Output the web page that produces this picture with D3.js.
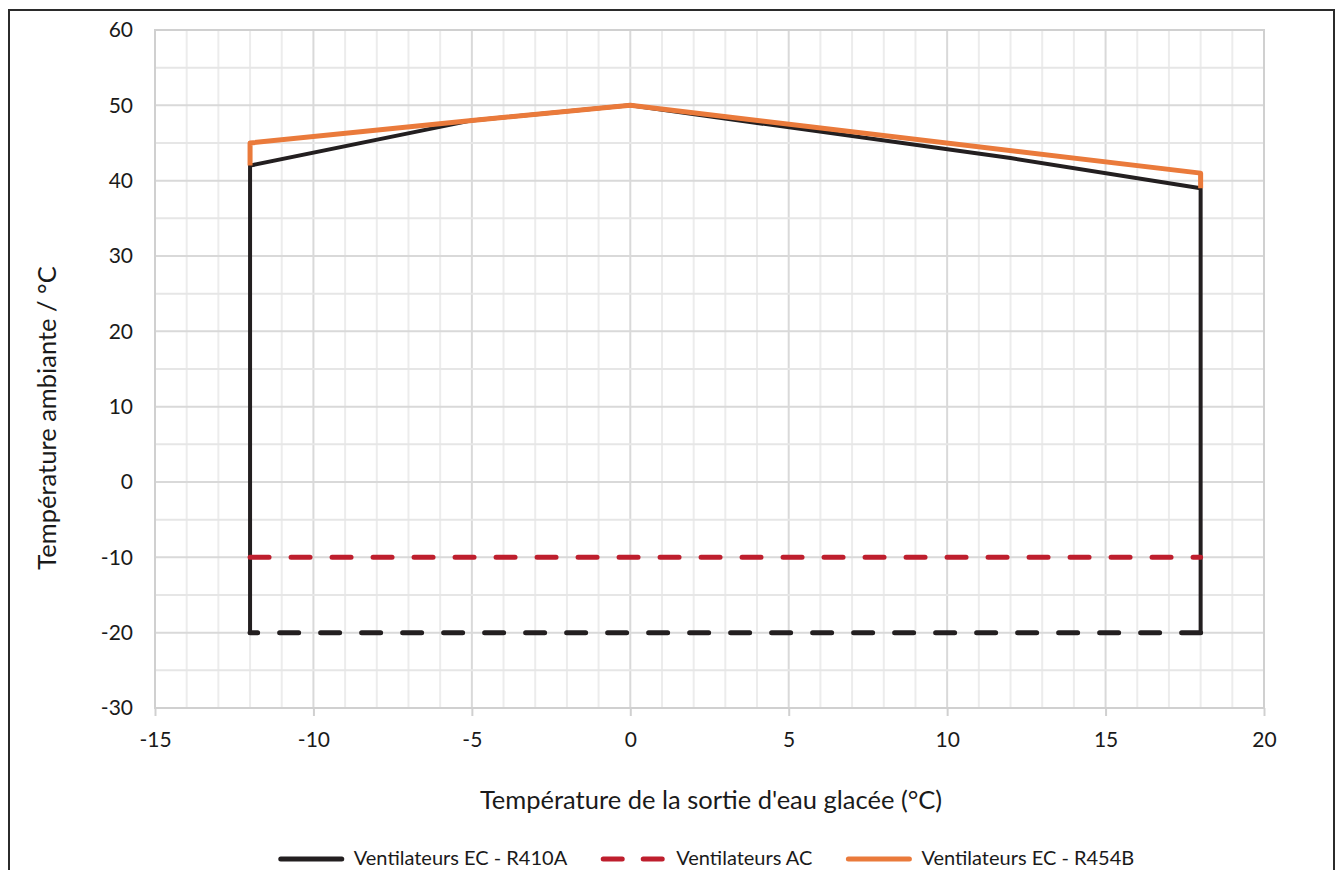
<!DOCTYPE html>
<html>
<head>
<meta charset="utf-8">
<script src="https://cdn.jsdelivr.net/npm/d3@7"></script>
<style>
	body { margin: 0; background: #fff; }
	svg text { font-family: Lato, "Open Sans", sans-serif; fill: #1a1a1a; }
</style>
</head>
<body>
<div id="chart"></div>
<script>
// values
var xTicks = [ -15, -10, -5, 0, 5, 10, 15, 20 ];
var yTicks = [ -30, -20, -10, 0, 10, 20, 30, 40, 50, 60 ];

var r410aX = [ -12, -12, -5, 0, 12, 18, 18 ];
var r410aY = [ -20, 42, 48, 50, 43, 39, -20 ];
var r410aBottomX = [ 18, -12 ];
var r410aBottomY = [ -20, -20 ];

var acX = [ -12, 18 ];
var acY = [ -10, -10 ];

var r454bX = [ -12, -12, -5, 0, 18, 18 ];
var r454bY = [ 42, 45, 48, 50, 41, 39 ];

var legendLabels = [ "Ventilateurs EC - R410A", "Ventilateurs AC",
		"Ventilateurs EC - R454B" ];
var xTitle = "Température de la sortie d'eau glacée (°C)";
var yTitle = "Température ambiante / °C";

var black = "#231f20", red = "#be1e2d", orange = "#ea7a3b";

function toPoints(xs, ys) {
	var pts = [];
	for (var i = 0; i < xs.length; i++) {
		pts.push({ x : xs[i], y : ys[i] });
	}
	return pts;
}

function drawGrid(plot, x, y) {
	// vertical lines every 1 degree, darker on labelled ticks
	for (var v = -15; v <= 20; v++) {
		var major = v % 5 == 0;
		plot.append("line").attr("x1", x(v)).attr("x2", x(v)).attr("y1", y(60))
				.attr("y2", y(-30)).attr("stroke", major ? "#d9d9d9" : "#ececec")
				.attr("stroke-width", 2);
	}
	for (var h = -30; h <= 60; h += 5) {
		plot.append("line").attr("x1", x(-15)).attr("x2", x(20)).attr("y1", y(h))
				.attr("y2", y(h)).attr("stroke", h % 10 == 0 ? "#d9d9d9" : "#e6e6e6")
				.attr("stroke-width", 2);
	}
	plot.append("rect").attr("x", x(-15)).attr("y", y(60)).attr("width",
			x(20) - x(-15)).attr("height", y(-30) - y(60)).attr("fill", "none")
			.attr("stroke", "#d0d0d0").attr("stroke-width", 2);
}

function drawAxes(svg, x, y) {
	var fmt = function(d) {
		return String(d); // plain hyphen like the reference
	};
	var xAxis = svg.append("g").attr("transform", "translate(0," + y(-30) + ")")
			.call(d3.axisBottom(x).tickValues(xTicks).tickFormat(fmt).tickSize(8)
					.tickPadding(16));
	var yAxis = svg.append("g").attr("transform", "translate(" + x(-15) + ",0)")
			.call(d3.axisLeft(y).tickValues(yTicks).tickFormat(fmt).tickSize(0)
					.tickPadding(22));
	[ xAxis, yAxis ].forEach(function(g) {
		g.select(".domain").remove();
		g.selectAll("line").attr("stroke", "#d0d0d0").attr("stroke-width", 2);
		g.selectAll("text").attr("font-size", 21).attr("font-family",
				"Lato, sans-serif").attr("fill", "#1a1a1a");
	});

	svg.append("text").attr("x", 711).attr("y", 809).attr("text-anchor",
			"middle").attr("font-size", 25.5).text(xTitle);
	svg.append("text").attr("transform", "translate(56,418) rotate(-90)")
			.attr("text-anchor", "middle").attr("font-size", 25.5).text(yTitle);
}

function drawSeries(plot, x, y) {
	var line = d3.line().x(function(d) {
		return x(d.x);
	}).y(function(d) {
		return y(d.y);
	});
	plot.append("path").attr("d", line(toPoints(r410aX, r410aY))).attr("fill",
			"none").attr("stroke", black).attr("stroke-width", 4).attr(
			"stroke-linejoin", "round");
	plot.append("path").attr("d", line(toPoints(r410aBottomX, r410aBottomY)))
			.attr("fill", "none").attr("stroke", black).attr("stroke-width", 5)
			.attr("stroke-dasharray", "19,22").attr("stroke-linecap", "round");
	plot.append("path").attr("d", line(toPoints(acX, acY))).attr("fill", "none")
			.attr("stroke", red).attr("stroke-width", 5).attr("stroke-dasharray",
					"19,22").attr("stroke-linecap", "round");
	plot.append("path").attr("d", line(toPoints(r454bX, r454bY))).attr("fill",
			"none").attr("stroke", orange).attr("stroke-width", 5).attr(
			"stroke-linejoin", "round");
}

function drawLegend(svg) {
	var styles = [ { color : black, dash : null }, { color : red, dash : "19,21" },
			{ color : orange, dash : null } ];
	var g = svg.append("g");
	var cx = 0, ly = 859;
	for (var i = 0; i < legendLabels.length; i++) {
		g.append("line").attr("x1", cx + 3).attr("x2", cx + 64).attr("y1", ly)
				.attr("y2", ly).attr("stroke", styles[i].color).attr(
						"stroke-width", 5).attr("stroke-linecap", "round").attr(
						"stroke-dasharray", styles[i].dash);
		var t = g.append("text").attr("x", cx + 76).attr("y", ly + 6).attr(
				"font-size", 20).text(legendLabels[i]);
		cx += 76 + t.node().getComputedTextLength() + 33;
	}
	var total = cx - 33;
	g.attr("transform", "translate(" + (706 - total / 2) + ",0)");
}

try {
	var svg = d3.select("#chart").append("svg").attr("width", 1343).attr(
			"height", 870);
	svg.append("rect").attr("x", 9).attr("y", 10).attr("width", 1325).attr(
			"height", 880).attr("fill", "#fff").attr("stroke", "#2b2b2b").attr(
			"stroke-width", 2);

	var x = d3.scaleLinear().domain([ -15, 20 ]).range([ 155, 1264 ]);
	var y = d3.scaleLinear().domain([ -30, 60 ]).range([ 708, 30 ]);

	var plot = svg.append("g");
	drawGrid(plot, x, y);
	drawAxes(svg, x, y);
	drawSeries(plot, x, y);
	drawLegend(svg);
} catch (error) {
	console.log("Chart Error: " + error);
}
</script>
</body>
</html>
